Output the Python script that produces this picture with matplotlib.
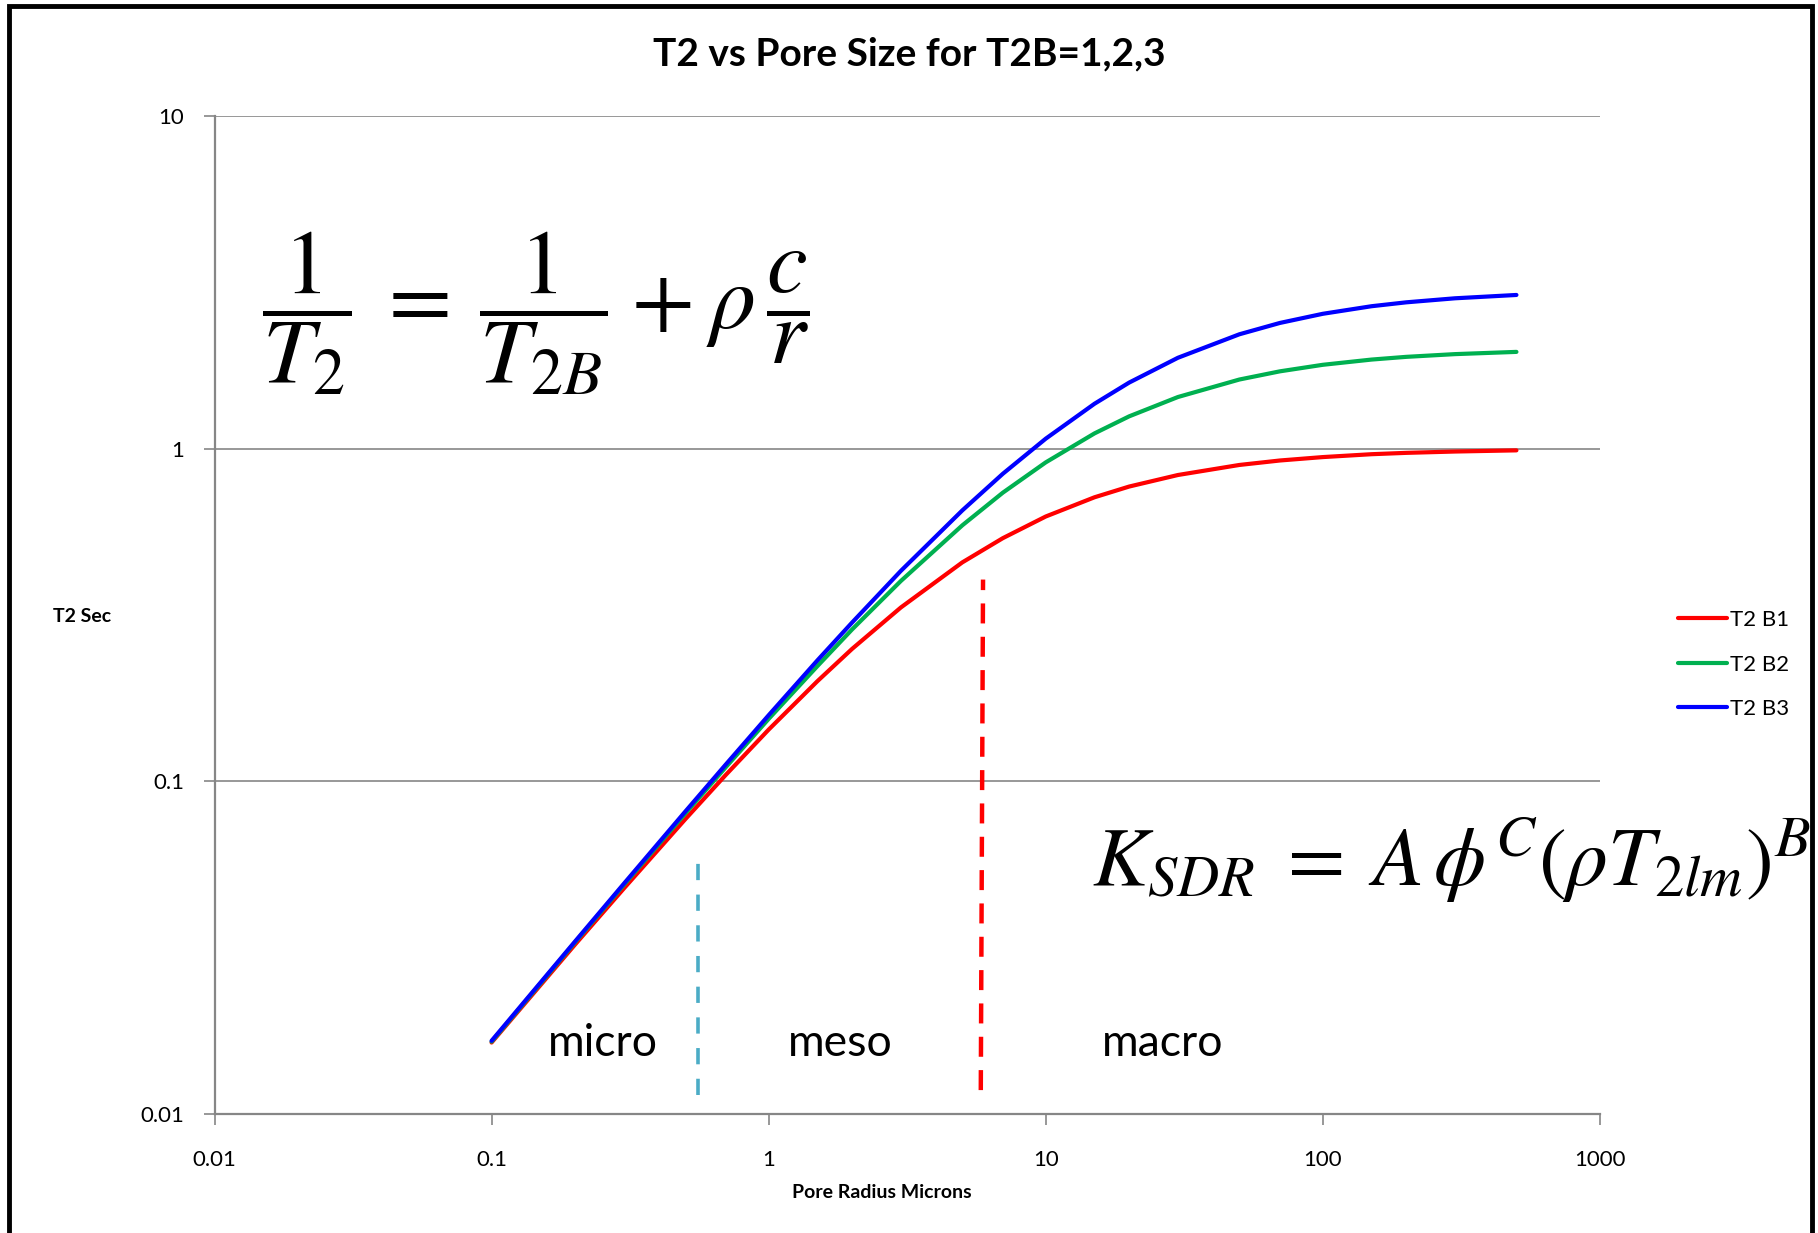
import matplotlib
matplotlib.use('Agg')
import matplotlib.pyplot as plt
from matplotlib.patches import Rectangle

plt.rcParams['font.family'] = ['Lato', 'DejaVu Sans']
plt.rcParams['mathtext.fontset'] = 'stix'

# ── Data ─────────────────────────────────────────────────────────────────────
radius = [0.1, 0.2, 0.3, 0.5, 0.7, 1, 1.5, 2, 3, 5, 7, 10, 15, 20, 30,
          50, 70, 100, 150, 200, 300, 500]
t2_b1 = [0.0164, 0.0323, 0.0476, 0.0769, 0.1045, 0.143, 0.200, 0.250, 0.333,
         0.455, 0.538, 0.625, 0.714, 0.769, 0.833, 0.893, 0.921, 0.943, 0.962,
         0.971, 0.980, 0.988]
t2_b2 = [0.0165, 0.0328, 0.0488, 0.0800, 0.1102, 0.154, 0.222, 0.286, 0.400,
         0.588, 0.737, 0.909, 1.111, 1.250, 1.429, 1.613, 1.707, 1.786, 1.852,
         1.887, 1.923, 1.953]
t2_b3 = [0.0166, 0.0330, 0.0492, 0.0811, 0.1123, 0.158, 0.231, 0.300, 0.429,
         0.652, 0.840, 1.071, 1.364, 1.579, 1.875, 2.206, 2.386, 2.542, 2.679,
         2.752, 2.830, 2.896]
series_names = ['T2 B1', 'T2 B2', 'T2 B3']
series_colors = ['#ff0000', '#00b050', '#0000ff']

# boundary markers (micro/meso and meso/macro)
micro_x = [0.556, 0.556]
micro_y = [0.0114, 0.059]
macro_x = [5.83, 5.94]
macro_y = [0.0118, 0.404]

region_names = ['micro', 'meso', 'macro']
region_x = [0.252, 1.82, 26.5]
region_y = 0.0163

xticks = [0.01, 0.1, 1, 10, 100, 1000]
xtick_labels = ['0.01', '0.1', '1', '10', '100', '1000']
yticks = [0.01, 0.1, 1, 10]
ytick_labels = ['0.01', '0.1', '1', '10']

GRID = '#868686'

fig = plt.figure(figsize=(18.18, 12.33), dpi=100)
ax = fig.add_axes([0.118, 0.0965, 0.762, 0.8095])

for y, name, col in zip([t2_b1, t2_b2, t2_b3], series_names, series_colors):
    ax.plot(radius, y, color=col, lw=3.0, label=name, solid_capstyle='round', zorder=3)

ax.plot(micro_x, micro_y, color='#4bacc6', lw=2.6, dashes=(4.5, 4), zorder=2)
ax.plot(macro_x, macro_y, color='#ff0000', lw=3.2, dashes=(4.5, 3), zorder=2)

ax.set_xscale('log')
ax.set_yscale('log')
ax.set_xlim(0.01, 1000)
ax.set_ylim(0.01, 10)
ax.set_xticks(xticks)
ax.set_xticklabels(xtick_labels)
ax.set_yticks(yticks)
ax.set_yticklabels(ytick_labels)
ax.minorticks_off()
ax.tick_params(axis='both', direction='out', length=8, width=1.2, color=GRID,
               labelsize=16, pad=14)
ax.tick_params(axis='x', pad=18)
ax.grid(axis='y', color=GRID, lw=1.2)
ax.set_axisbelow(True)
for s in ['top', 'right']:
    ax.spines[s].set_visible(False)
for s in ['left', 'bottom']:
    ax.spines[s].set_color(GRID)
    ax.spines[s].set_linewidth(1.6)

for name, x in zip(region_names, region_x):
    ax.text(x, region_y, name, ha='center', va='center', fontsize=32)

# equations
ax.text(0.232, 0.803,
        r'$\dfrac{1}{T_2}\:=\:\dfrac{1}{T_{2B}}\:+\:\rho\,\dfrac{c}{r}$',
        transform=ax.transAxes, ha='center', va='center', fontsize=66)
ax.text(0.893, 0.254,
        r'$K_{SDR}\;=\;A\,\phi^{C}\left(\rho T_{2lm}\right)^{B}$',
        transform=ax.transAxes, ha='center', va='center', fontsize=60)

fig.text(0.5, 0.956, 'T2 vs Pore Size for T2B=1,2,3', ha='center', va='center',
         fontsize=28, fontweight='bold')
fig.text(0.045, 0.5, 'T2 Sec', ha='center', va='center', fontsize=14, fontweight='bold')
fig.text(0.485, 0.033, 'Pore Radius Microns', ha='center', va='center',
         fontsize=14, fontweight='bold')

fig.legend(loc='center left', bbox_to_anchor=(0.912, 0.461), frameon=False,
           fontsize=16, handlelength=2.2, handletextpad=0.15, labelspacing=1.1)

# outer chart frame (bottom edge falls outside the picture)
fig.patches.append(Rectangle((9 / 1818, -0.05), 1803 / 1818, 1.05 - 6 / 1233,
                             transform=fig.transFigure, fill=False,
                             edgecolor='black', lw=3.5))

fig.savefig('out.png', dpi=100, facecolor='white')
